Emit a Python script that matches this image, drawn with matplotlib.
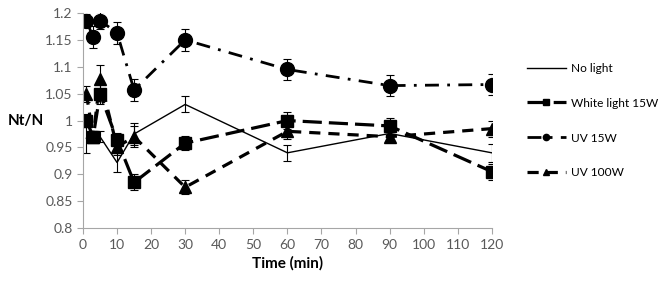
import matplotlib.pyplot as plt
from matplotlib.lines import Line2D
import numpy as np

plt.rcParams['font.family'] = ['Lato', 'DejaVu Sans']

########################################## data

time_min = [1, 3, 5, 10, 15, 30, 60, 90, 120]

no_light = [0.967, 0.97, 0.97, 0.922, 0.975, 1.03, 0.94, 0.976, 0.94]
no_light_err = [0.028, 0.01, 0.01, 0.018, 0.02, 0.015, 0.015, 0.01, 0.017]

white_15w = [1.0, 0.97, 1.05, 0.964, 0.885, 0.958, 1.0, 0.99, 0.905]
white_15w_err = [0.012, 0.01, 0.02, 0.012, 0.015, 0.013, 0.015, 0.015, 0.015]

uv_15w = [1.186, 1.155, 1.186, 1.163, 1.057, 1.15, 1.095, 1.065, 1.067]
uv_15w_err = [0.012, 0.02, 0.015, 0.02, 0.02, 0.02, 0.02, 0.02, 0.02]

uv_100w = [1.05, 0.97, 1.078, 0.951, 0.97, 0.876, 0.98, 0.97, 0.985]
uv_100w_err = [0.015, 0.01, 0.025, 0.015, 0.02, 0.013, 0.015, 0.01, 0.015]

y_ticks = [0.8, 0.85, 0.9, 0.95, 1.0, 1.05, 1.1, 1.15, 1.2]
y_tick_labels = ['0.8', '0.85', '0.9', '0.95', '1', '1.05', '1.1', '1.15', '1.2']
x_ticks = list(range(0, 121, 10))

########################################## plot

fig = plt.figure(figsize=(6.67, 2.83), dpi=100)
ax = fig.add_axes([0.1244, 0.194, 0.613, 0.76])

err_kw = dict(ecolor='black', elinewidth=0.8, capsize=3, capthick=0.8)

styles = [
    dict(lw=1.0, label='No light'),
    dict(lw=2.3, marker='s', ms=9, dashes=(6, 2.2), label='White light 15W'),
    dict(lw=2.0, marker='o', ms=10, dashes=(5, 3, 1, 3), label='UV 15W'),
    dict(lw=2.3, marker='^', ms=9, dashes=(3.5, 2.5), label='UV 100W'),
]
series = [(no_light, no_light_err), (white_15w, white_15w_err),
          (uv_15w, uv_15w_err), (uv_100w, uv_100w_err)]

handles = []
for (vals, errs), st in zip(series, styles):
    ax.errorbar(time_min, vals, yerr=errs, color='black', **st, **err_kw)
    leg_st = dict(st)
    if 'ms' in leg_st:
        leg_st['ms'] = leg_st['ms'] * 0.45
    handles.append(Line2D([], [], color='black', **leg_st))

ax.set_xlim(0, 120)
ax.set_ylim(0.8, 1.2)
ax.set_xticks(x_ticks)
ax.set_yticks(y_ticks)
ax.set_yticklabels(y_tick_labels)

for side in ['top', 'right']:
    ax.spines[side].set_visible(False)
for side in ['left', 'bottom']:
    ax.spines[side].set_color('#a6a6a6')
    ax.spines[side].set_linewidth(0.8)
ax.tick_params(direction='out', length=4, width=0.8, color='#a6a6a6',
               labelcolor='#595959', labelsize=10)

ax.set_xlabel('Time (min)', fontsize=11, fontweight='bold', labelpad=4)
ax.set_ylabel('Nt/N', fontsize=11, fontweight='bold', rotation=0, labelpad=14,
              va='center')

ax.legend(handles=handles, loc='center left', bbox_to_anchor=(1.075, 0.5),
          borderaxespad=0, frameon=False, fontsize=8.6, handlelength=3.2,
          handletextpad=0.45, labelspacing=2.0)

fig.savefig('out.png', dpi=100)
